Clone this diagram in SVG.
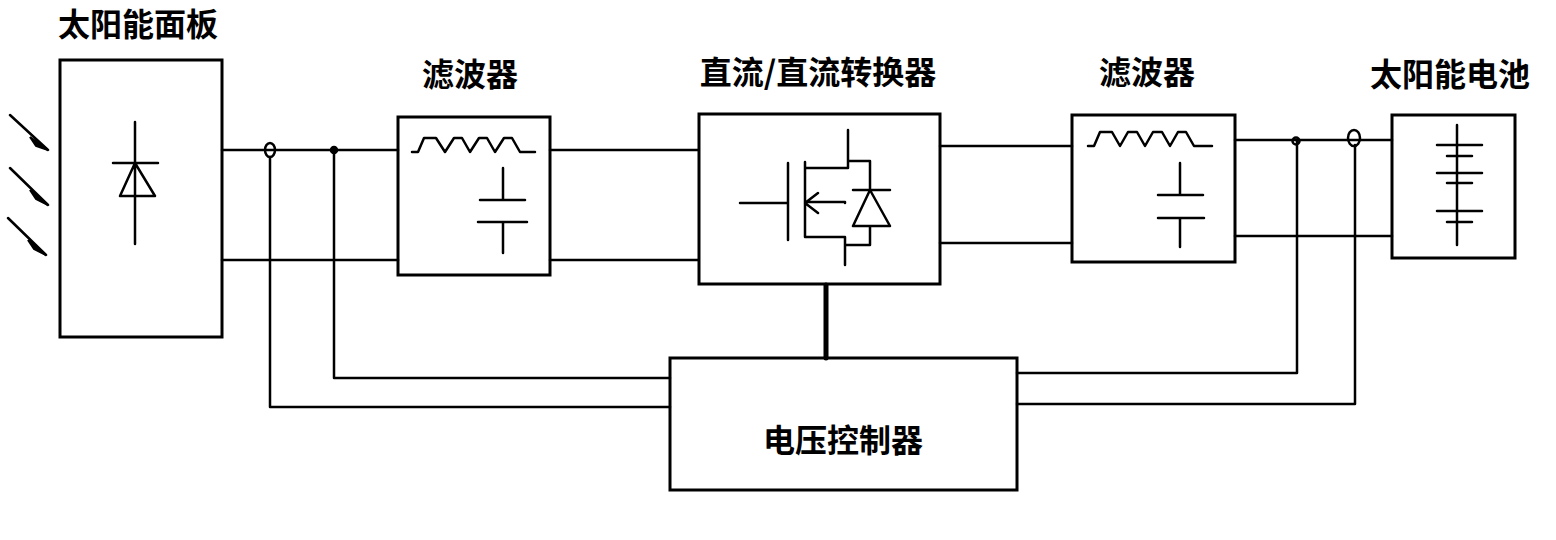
<svg xmlns="http://www.w3.org/2000/svg" width="1556" height="540" viewBox="0 0 1556 540">
<style>
.b{fill:none;stroke:#000;stroke-width:3}
.l{fill:none;stroke:#000;stroke-width:2.5;stroke-linecap:round;stroke-linejoin:round}
.a{fill:#000;stroke:#000;stroke-width:2}
text{font-family:"Noto Sans CJK SC","Liberation Sans",sans-serif;font-size:32px;font-weight:bold;fill:#000}
</style>
<rect width="1556" height="540" fill="#fff"/>
<g id="panel">
<rect class="b" x="60" y="60" width="162" height="277"/>
<path class="l" d="M135 122V244M113 163H158M135 163L120 196H155Z"/>
<path class="l" d="M10 115L48 150M10 168L48 205M8 218L46 255"/>
<path class="a" d="M30 137L48 150L36 146ZM30 190L48 205L36 199ZM28 240L46 255L34 249Z"/>
<text x="58" y="36">太阳能面板</text>
</g>
<g id="filter1">
<rect class="b" x="398" y="117" width="152" height="158"/>
<path class="l" d="M412 152H418L424 138H436L445 152L454 138H462L470 152L479 138H487L495 152L504 138H512L520 152H535"/>
<path class="l" d="M503 168V200M480 200H525M478 222H527M503 222V253"/>
<text x="470" y="86" text-anchor="middle">滤波器</text>
</g>
<g id="dcdc">
<rect class="b" x="699" y="114" width="241" height="170"/>
<path class="l" d="M740 203H787M788 163V240M805 162V237M805 168H848V130M848 161H870V190M853 190H890M870 190L853 226H890ZM870 226V245H845M805 237H845V265M845 203V202H805M805 203L818 193M805 203L818 213"/>
<text x="818" y="84" text-anchor="middle">直流/直流转换器</text>
</g>
<g id="filter2">
<rect class="b" x="1072" y="115" width="163" height="147"/>
<path class="l" d="M1088 146H1094L1100 132H1112L1120 146L1128 132H1137L1145 146L1153 132H1162L1170 146L1178 132H1186L1194 146H1212"/>
<path class="l" d="M1180 163V195M1158 195H1203M1158 218H1204M1180 218V247"/>
<text x="1147" y="84" text-anchor="middle">滤波器</text>
</g>
<g id="battery">
<rect class="b" x="1392" y="115" width="123" height="143"/>
<path class="l" d="M1457 125V245M1437 145H1482M1447 156H1472M1437 173H1482M1447 183H1472M1437 211H1482M1447 222H1472"/>
<text x="1450" y="86" text-anchor="middle">太阳能电池</text>
</g>
<g id="controller">
<rect class="b" x="670" y="358" width="347" height="132"/>
<text x="843" y="452" text-anchor="middle">电压控制器</text>
</g>
<g id="connectors" class="l">
<path d="M222 150H398M222 260H398M550 150H698M550 260H698M940 146H1072M940 243H1072M1235 140H1392M1235 236H1392"/>
<path d="M270 157V407H670M334 150V378H670M1297 141V373H1017M1355 145V404H1017"/>
<path d="M826 285V358" stroke-width="5"/>
<ellipse cx="270" cy="150" rx="5" ry="7"/>
<circle cx="334" cy="150" r="3" fill="#000"/>
<circle cx="1296" cy="141" r="3.5"/>
<ellipse cx="1354" cy="138" rx="6" ry="8"/>
</g>
</svg>
